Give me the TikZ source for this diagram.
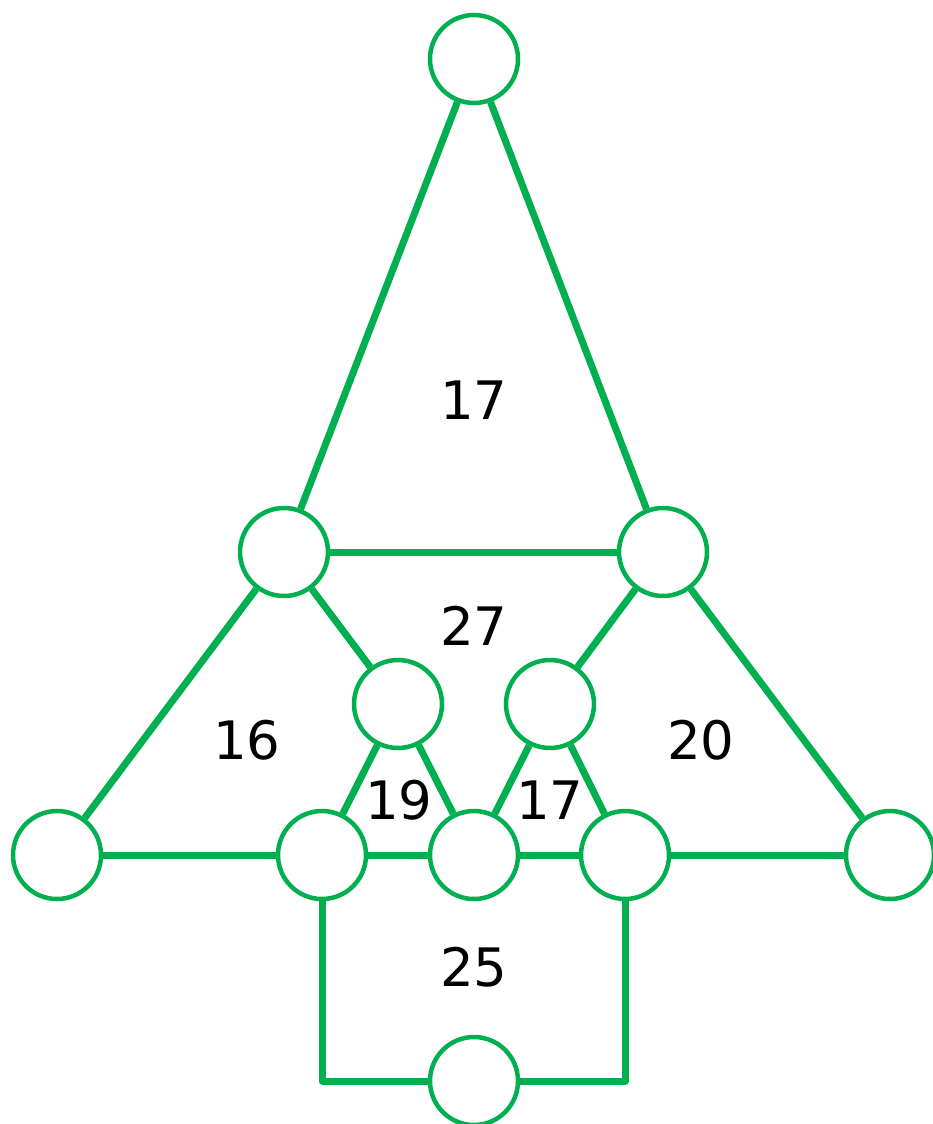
\documentclass[tikz,border=0pt]{standalone}
\usepackage{fontspec}
\setmainfont{DejaVu Sans}
\definecolor{g}{HTML}{00B050}
\begin{document}
\begin{tikzpicture}[x=1pt,y=-1pt,
  vtx/.style={circle,draw=g,line width=4.5pt,fill=white,minimum size=88pt,inner sep=0pt},
  edge/.style={draw=g,line width=7pt,line join=round},
  lab/.style={font=\fontsize{53}{60}\selectfont,text=black,inner sep=0pt}]
\useasboundingbox (0,0) rectangle (932,1124);
\node[vtx] (t) at (474,59) {};
\node[vtx] (ml) at (284,552) {};
\node[vtx] (mr) at (663,552) {};
\node[vtx] (il) at (398,704) {};
\node[vtx] (ir) at (550,704) {};
\node[vtx] (b1) at (57,855) {};
\node[vtx] (b2) at (322,855) {};
\node[vtx] (b3) at (474,855) {};
\node[vtx] (b4) at (625,855) {};
\node[vtx] (b5) at (890,855) {};
\node[vtx] (bt) at (474,1081) {};
\begin{scope}[on background layer/.style={}]
\end{scope}
\draw[edge] (t) -- (ml);
\draw[edge] (t) -- (mr);
\draw[edge] (ml) -- (mr);
\draw[edge] (ml) -- (b1);
\draw[edge] (mr) -- (b5);
\draw[edge] (ml) -- (il);
\draw[edge] (mr) -- (ir);
\draw[edge] (il) -- (b2);
\draw[edge] (il) -- (b3);
\draw[edge] (ir) -- (b3);
\draw[edge] (ir) -- (b4);
\draw[edge] (b1) -- (b2);
\draw[edge] (b2) -- (b3);
\draw[edge] (b3) -- (b4);
\draw[edge] (b4) -- (b5);
\draw[edge] (b2) |- (bt);
\draw[edge] (b4) |- (bt);
\node[lab] at (474,400) {17};
\node[lab] at (474,626) {27};
\node[lab] at (247,740) {16};
\node[lab] at (701,740) {20};
\node[lab] at (399,800) {19};
\node[lab] at (550,800) {17};
\node[lab] at (474,967) {25};
\end{tikzpicture}
\end{document}
